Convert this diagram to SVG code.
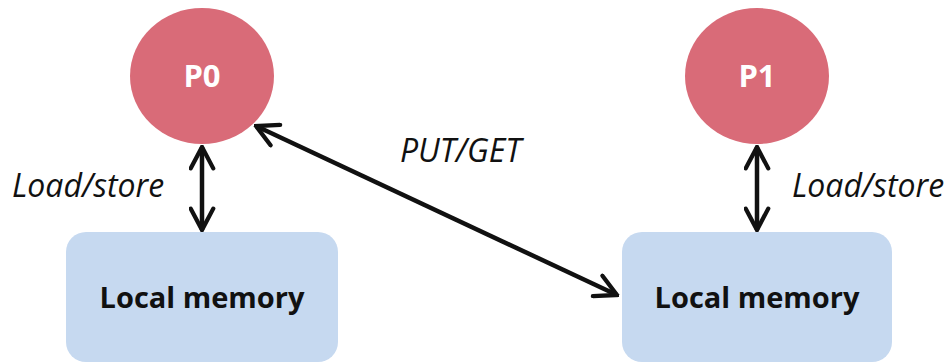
<svg xmlns="http://www.w3.org/2000/svg" width="946" height="363" viewBox="0 0 946 363">
  <style>
    .proc { fill: #D96B78; }
    .proc-label { font-family: "Open Sans", "Liberation Sans", sans-serif; font-weight: bold; font-size: 31px; fill: #ffffff; text-anchor: middle; }
    .mem { fill: #C6D9F0; }
    .mem-label { font-family: "Open Sans", "Liberation Sans", sans-serif; font-weight: bold; font-size: 29px; fill: #111111; text-anchor: middle; }
    .edge-label { font-family: "Open Sans", "Liberation Sans", sans-serif; font-style: italic; font-size: 32px; fill: #111111; }
    .link { stroke: #111111; stroke-width: 4.5; fill: none; marker-start: url(#head); marker-end: url(#head); }
  </style>
  <defs>
    <marker id="head" viewBox="0 0 12 12" refX="11" refY="6" markerWidth="6" markerHeight="6" orient="auto-start-reverse" markerUnits="strokeWidth">
      <path d="M1.5,1 L11,6 L1.5,11" fill="none" stroke="#111111" stroke-width="1.9" stroke-linecap="round" stroke-linejoin="miter"/>
    </marker>
  </defs>

  <g id="p0">
    <ellipse class="proc" cx="202" cy="76" rx="72" ry="68"/>
    <text class="proc-label" x="202" y="87">P0</text>
  </g>
  <g id="p1">
    <ellipse class="proc" cx="757" cy="76" rx="72" ry="68"/>
    <text class="proc-label" x="757" y="87">P1</text>
  </g>
  <g id="mem0">
    <rect class="mem" x="66" y="232" width="272" height="130" rx="20"/>
    <text class="mem-label" x="202" y="308">Local memory</text>
  </g>
  <g id="mem1">
    <rect class="mem" x="622" y="232" width="270" height="130" rx="20"/>
    <text class="mem-label" x="757" y="308">Local memory</text>
  </g>

  <g id="connectors">
    <line class="link" x1="202" y1="147" x2="202" y2="230"/>
    <line class="link" x1="757" y1="147" x2="757" y2="230"/>
    <line class="link" x1="256" y1="126" x2="617" y2="295"/>
    <text class="edge-label" x="12" y="197">Load/store</text>
    <text class="edge-label" x="792" y="197">Load/store</text>
    <text class="edge-label" x="400" y="162">PUT/GET</text>
  </g>
</svg>
